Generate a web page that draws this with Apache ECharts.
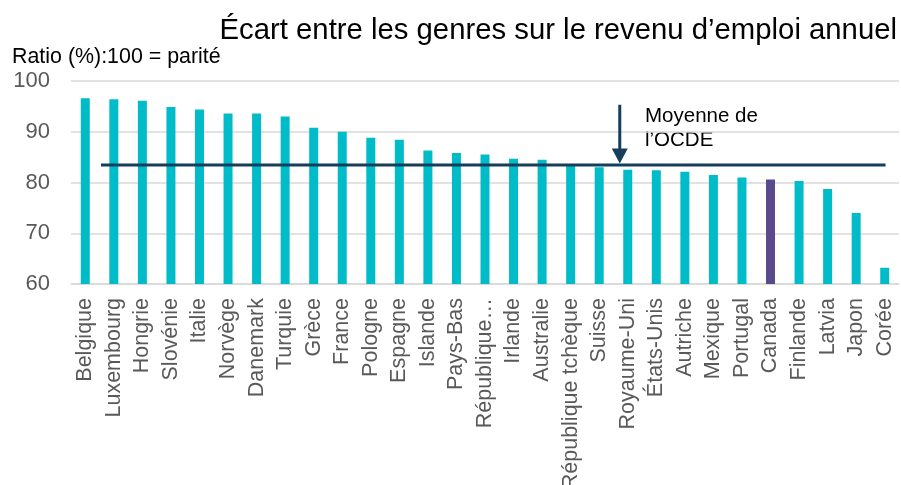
<!doctype html>
<html>
<head>
    <meta charset="utf-8">
    <title>Écart entre les genres sur le revenu d'emploi annuel</title>
    <style>
        html, body { margin: 0; padding: 0; width: 100%; height: 100%; background: #fff; }
        #chart { width: 901px; height: 485px; }
    </style>
</head>
<body>
<div id="chart"></div>
<script src="https://cdn.jsdelivr.net/npm/echarts@6/dist/echarts.min.js"></script>
<script>
    // données
    var pays = ['Belgique', 'Luxembourg', 'Hongrie', 'Slovénie', 'Italie', 'Norvège', 'Danemark', 'Turquie',
        'Grèce', 'France', 'Pologne', 'Espagne', 'Islande', 'Pays-Bas', 'République slovaque', 'Irlande',
        'Australie', 'République tchèque', 'Suisse', 'Royaume-Uni', 'États-Unis', 'Autriche', 'Mexique',
        'Portugal', 'Canada', 'Finlande', 'Latvia', 'Japon', 'Corée'];
    var ratios = [96.6, 96.4, 96.1, 94.9, 94.4, 93.6, 93.6, 93.0, 90.8, 90.0, 88.8, 88.4, 86.3, 85.8, 85.5,
        84.7, 84.5, 83.6, 83.0, 82.5, 82.4, 82.1, 81.5, 81.0, 80.6, 80.3, 78.7, 74.0, 63.2];
    var yTicks = [60, 70, 80, 90, 100];
    var moyenneOCDE = 83.45;
    var moyenneDebutFin = [0.55, 28.03];   // position (en catégories) de la ligne de moyenne
    var fleche = [[18.72, 95.3], [18.72, 85.2]];

    var teal = '#00BCC8', violet = '#5B4A8B', marine = '#173D5C';
    var police = "'Liberation Sans', Arial, sans-serif";

    var barres = pays.map(function (p, i) {
        return {
            value: ratios[i],
            itemStyle: { color: p === 'Canada' ? violet : teal }
        };
    });

    var myChart = echarts.init(document.getElementById('chart'));
    var option = {
        animation: false,
        textStyle: { fontFamily: police },
        title: [{
            text: "Écart entre les genres sur le revenu d’emploi annuel",
            right: 4,
            top: 16,
            padding: 0,
            textStyle: { fontSize: 29.3, fontWeight: 'normal', color: '#000', fontFamily: police }
        }, {
            text: 'Ratio (%):100 = parité',
            left: 12,
            top: 47,
            padding: 0,
            textStyle: { fontSize: 21.4, fontWeight: 'normal', color: '#000', fontFamily: police }
        }],
        grid: { left: 71, right: 2, top: 81, bottom: 201, containLabel: false, outerBoundsMode: 'none' },
        xAxis: [{
            type: 'category',
            data: pays,
            axisTick: { show: false },
            axisLine: { lineStyle: { color: '#D9D9D9', width: 1.5 } },
            axisLabel: {
                interval: 0,
                rotate: 90,
                margin: 14,
                fontSize: 21.5,
                color: '#595959',
                fontFamily: police,
                formatter: function (v) {
                    return v === 'République slovaque' ? 'République…' : v;
                }
            }
        }, {
            type: 'value',
            min: -0.5,
            max: pays.length - 0.5,
            show: false
        }],
        yAxis: {
            type: 'value',
            min: yTicks[0],
            max: yTicks[yTicks.length - 1],
            interval: 10,
            axisLine: { show: false },
            axisTick: { show: false },
            splitLine: { lineStyle: { color: '#D9D9D9', width: 1.5 } },
            axisLabel: { fontSize: 22, color: '#595959', margin: 21, fontFamily: police }
        },
        graphic: [{
            type: 'text',
            left: 645,
            top: 104,
            style: {
                text: 'Moyenne de\nl’OCDE',
                fontSize: 20.5,
                lineHeight: 24,
                fill: '#000',
                fontFamily: police
            }
        }],
        series: [{
            type: 'bar',
            data: barres,
            barWidth: 9,
            xAxisIndex: 0
        }, {
            type: 'line',
            xAxisIndex: 1,
            data: [[moyenneDebutFin[0], moyenneOCDE], [moyenneDebutFin[1], moyenneOCDE]],
            symbol: 'none',
            lineStyle: { color: marine, width: 3 },
            z: 5
        }, {
            type: 'line',
            xAxisIndex: 1,
            data: [
                { value: fleche[0], symbol: 'none' },
                { value: fleche[1], symbol: 'triangle', symbolSize: [16, 15], symbolRotate: 180 }
            ],
            showSymbol: true,
            itemStyle: { color: marine },
            lineStyle: { color: marine, width: 3 },
            z: 6
        }]
    };
    myChart.setOption(option);
</script>
</body>
</html>
